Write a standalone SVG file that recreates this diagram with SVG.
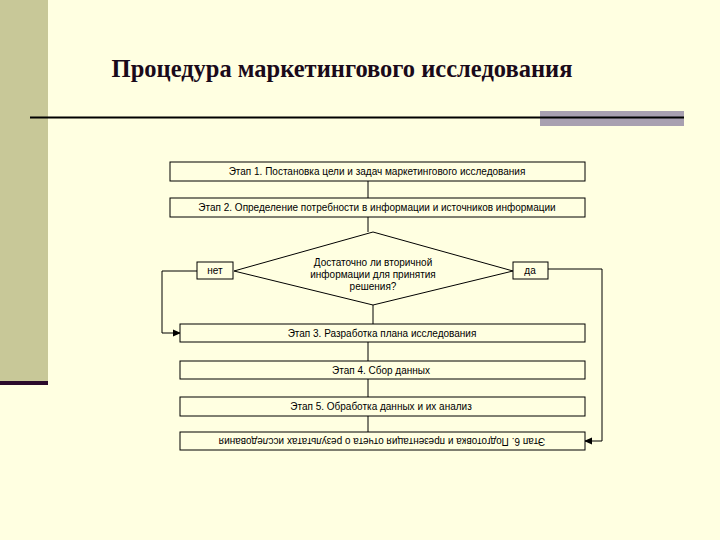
<svg xmlns="http://www.w3.org/2000/svg" width="720" height="540" viewBox="0 0 720 540">
<defs>
<style>
.box{fill:#ffffe1;stroke:#000;stroke-width:1}
.t{font-family:"Liberation Sans",Arial,sans-serif;font-size:10px;fill:#000;text-anchor:middle}
.c{fill:none;stroke:#000;stroke-width:1}
</style>
<marker id="ah" markerWidth="8" markerHeight="8" refX="7" refY="4" orient="auto" markerUnits="userSpaceOnUse">
<path d="M0,0.5 L8,4 L0,7.5 Z" fill="#000"/>
</marker>
</defs>
<rect x="0" y="0" width="720" height="540" fill="#ffffe1"/>
<rect x="0" y="0" width="48" height="382" fill="#c8c898"/>
<rect x="0" y="381" width="48" height="4" fill="#2a0a2a"/>
<text x="342" y="77" font-family="Liberation Serif,'Times New Roman',serif" font-size="24.5" font-weight="bold" fill="#1a0a1a" text-anchor="middle">Процедура маркетингового исследования</text>
<rect x="540" y="111" width="144" height="15" fill="#a8a0b0"/>
<line x1="30" y1="117.5" x2="684" y2="117.5" stroke="#000" stroke-width="2"/>
<g id="connectors">
<line class="c" x1="368" y1="181" x2="368" y2="198"/>
<line class="c" x1="368" y1="217" x2="368" y2="232"/>
<line class="c" x1="373" y1="305" x2="373" y2="324"/>
<line class="c" x1="368" y1="342" x2="368" y2="361"/>
<line class="c" x1="368" y1="379" x2="368" y2="397"/>
<line class="c" x1="368" y1="416" x2="368" y2="432"/>
<polyline class="c" points="197,271 162,271 162,333 180,333" marker-end="url(#ah)"/>
<polyline class="c" points="548,269 602,269 602,441 585,441" marker-end="url(#ah)"/>
</g>
<g id="step1"><rect class="box" x="170" y="162" width="415" height="19"/><text class="t" x="377" y="175">Этап 1. Постановка цели и задач маркетингового исследования</text></g>
<g id="step2"><rect class="box" x="170" y="198" width="415" height="19"/><text class="t" x="377" y="211">Этап 2. Определение потребности в информации и источников информации</text></g>
<g id="decision"><polygon class="box" points="373,232 513,271 373,305 234,271"/>
<text class="t" x="373" y="266">Достаточно ли вторичной</text>
<text class="t" x="373" y="278">информации для принятия</text>
<text class="t" x="373" y="290">решения?</text></g>
<g id="no"><rect class="box" x="197" y="262" width="36" height="17"/><text class="t" x="215" y="274">нет</text></g>
<g id="yes"><rect class="box" x="513" y="262" width="35" height="17"/><text class="t" x="530" y="274">да</text></g>
<g id="step3"><rect class="box" x="180" y="324" width="405" height="18"/><text class="t" x="382" y="336.5">Этап 3.  Разработка плана исследования</text></g>
<g id="step4"><rect class="box" x="180" y="361" width="405" height="18"/><text class="t" x="381" y="373.5">Этап 4. Сбор данных</text></g>
<g id="step5"><rect class="box" x="180" y="397" width="405" height="19"/><text class="t" x="381" y="410">Этап 5. Обработка  данных и их анализ</text></g>
<g id="step6"><rect class="box" x="180" y="432" width="405" height="18"/><text class="t" x="382" y="444" transform="rotate(180 382 441)">Этап 6. Подготовка и презентация отчета о результатах исследования</text></g>
</svg>
